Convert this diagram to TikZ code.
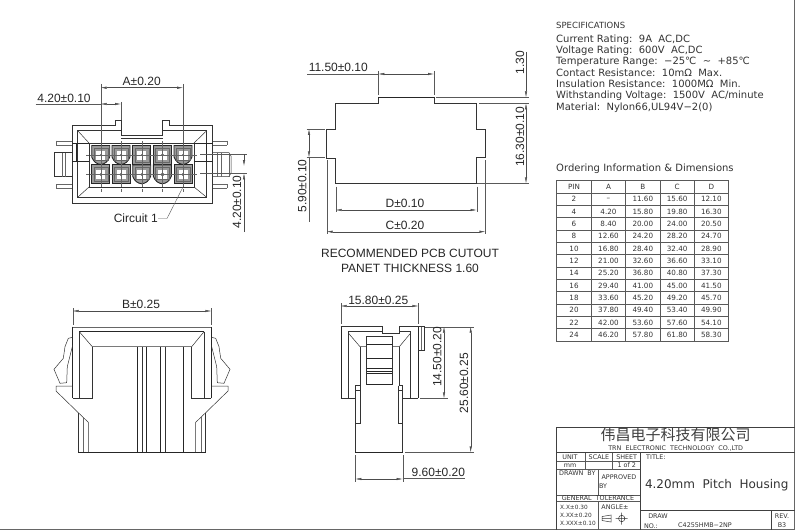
\documentclass[tikz,border=0pt]{standalone}
\usepackage{fontspec}
\usetikzlibrary{arrows.meta}
\setmainfont{Liberation Sans}
\newfontfamily\cadfont{DejaVu Sans}
\newfontfamily\cjkfont{Noto Sans CJK SC}
\tikzset{
  part/.style={draw=black!80, line width=0.5pt},
  heavy/.style={draw=black!85, line width=1pt},
  thin/.style={draw=black!60, line width=0.4pt},
  extline/.style={draw=black!65, line width=0.4pt},
  dimline/.style={draw=black!70, line width=0.4pt, {Latex[length=6pt,width=2.4pt]}-{Latex[length=6pt,width=2.4pt]}},
  oneline/.style={draw=black!70, line width=0.4pt, -{Latex[length=6pt,width=2.4pt]}},
  dimlabel/.style={inner sep=0pt, text=black!85, font=\fontsize{12}{12}\selectfont},
  noterow/.style={inner sep=0pt, anchor=west, text=black!80, font=\cadfont\fontsize{10}{10}\selectfont},
  cell/.style={inner sep=0pt, text=black!80, font=\cadfont\fontsize{7.2}{8}\selectfont},
  tiny/.style={inner sep=0pt, text=black!80, font=\cadfont\fontsize{6.4}{7}\selectfont},
  sqcell/.pic={
    \path[fill=black!40] (-9,-9.5) rectangle (9,9.5);
    \draw[heavy, line width=0.9pt] (-9,-9.5) rectangle (9,9.5);
    \path[fill=white] (-4.5,-4.5) rectangle (4.5,4.5);
    \path[fill=black!45] (-1.2,-1.2) rectangle (1.2,1.2);
    \draw[thin] (-7,-7) rectangle (7,7);
    \draw[thin] (0,-13) -- (0,13) (-11,0) -- (11,0);
  },
  rdcell/.pic={
    \path[fill=black!40] (-9,-9.5) -- (9,-9.5) -- (9,2) .. controls (7,7) and (4,9) .. (0,9.5) .. controls (-4,9) and (-7,7) .. (-9,2) -- cycle;
    \draw[heavy, line width=0.9pt] (-9,-9.5) -- (9,-9.5) -- (9,2) .. controls (7,7) and (4,9) .. (0,9.5) .. controls (-4,9) and (-7,7) .. (-9,2) -- cycle;
    \path[fill=white] (-4.5,-4.5) rectangle (4.5,4.5);
    \path[fill=black!45] (-1.2,-1.2) rectangle (1.2,1.2);
    \draw[thin] (-7,-7) rectangle (7,5);
    \draw[thin] (0,-13) -- (0,13) (-11,0) -- (11,0);
  },
}
\begin{document}
\begin{tikzpicture}[x=1pt, y=-1pt]
  \useasboundingbox (0,0) rectangle (800,532);
  % sheet border
  \draw[black!60, line width=1pt] (794.5,0) -- (794.5,529.5) -- (0,529.5);

  % mating face
  \draw[part] (72.3,125.7) -- (115,125.7) -- (115,120.7) -- (121,120.7) -- (121,135.7) -- (162.7,135.7) -- (162.7,120.7) -- (169,120.7) -- (169,125.7) -- (212.7,125.7) -- (212.7,203.3) -- (72.3,203.3) -- cycle;
  \draw[part] (121,130.7) -- (77.7,130.7) -- (77.7,197.3) -- (206.7,197.3) -- (206.7,130.7) -- (162.7,130.7);
  \draw[part] (121,138.3) -- (162.7,138.3);
  \draw[part] (89,143) rectangle (194,187);
  \foreach \x/\y/\u/\v in {77.7/130.7/89/143, 206.7/130.7/194/143, 77.7/197.3/89/187, 206.7/197.3/194/187} {
    \draw[part] (\x,\y) -- (\u,\v);
  }
  \draw[heavy, line width=0.8pt] (72.3,143) -- (89,143) (72.3,161.7) -- (89,161.7) (76.7,143) -- (76.7,161.7);
  \draw[heavy, line width=0.8pt] (194,143) -- (212.7,143) (194,161.7) -- (212.7,161.7) (206.7,143) -- (206.7,161.7);
  \foreach \y in {140.7,145,184,188} {
    \draw[thin] (56,\y) -- (72.3,\y);
    \draw[thin] (212.7,\y) -- (227,\y);
  }
  \draw[thin] (56,140.7) -- (56,145) (56,184) -- (56,188) (227,140.7) -- (227,145) (227,184) -- (227,188);
  \draw[part] (72.3,152.7) -- (54,152.7) -- (54,176.7) -- (72.3,176.7);
  \draw[thin] (62,152.7) -- (62,176.7) (65,152.7) -- (65,176.7);
  \draw[part] (212.7,152.7) -- (229,152.7) -- (231,156) -- (231,173) -- (229,176.7) -- (212.7,176.7);
  \draw[thin] (217,152.7) -- (217,176.7) (221,152.7) -- (221,176.7) (229,152.7) -- (229,176.7);
  \foreach \x in {100.7,121,141.7,162.3,183} {
    \draw[thin, dashed] (\x,141) -- (\x,192);
  }
  \draw[thin, dashed] (86,155) -- (197,155) (86,174.3) -- (197,174.3);
  \foreach \x/\shape in {100.7/rdcell,121/rdcell,141.7/sqcell,162.3/sqcell,183/rdcell} {
    \pic at (\x,155) {\shape};
  }
  \foreach \x/\shape in {100.7/sqcell,121/sqcell,141.7/rdcell,162.3/rdcell,183/sqcell} {
    \pic at (\x,174.3) {\shape};
  }

  % mating face dimensions
  \draw[extline] (100.7,84) -- (100.7,146) (183,84) -- (183,146) (121,102) -- (121,120);
  \draw[dimline] (100.7,87.7) -- (183,87.7);
  \node[dimlabel] (dimA) at (141.7,81) {A±0.20};
  \draw[extline] (35.7,104) -- (100.7,104);
  \draw[dimline] (100.7,104) -- (121,104);
  \node[dimlabel] (pitchH) at (64,98) {4.20±0.10};
  \draw[extline] (200,154) -- (246.7,154) (200,173.3) -- (246.7,173.3);
  \draw[oneline] (244,154) -- (244,166);
  \draw[oneline] (244,232) -- (244,173.3);
  \node[dimlabel, rotate=90] (pitchV) at (237,202) {4.20±0.10};
  \node[dimlabel, anchor=east] (circuit) at (158,218.5) {Circuit 1};
  \draw[extline] (circuit.east) -- (167,218.5) -- (183,187);

  % cutout
  \draw[part] (335.7,183.3) -- (335.7,158.3) -- (326.7,158.3) -- (326.7,129) -- (335.7,129) -- (335.7,103.3) -- (378.3,103.3) -- (378.3,97) -- (434,97) -- (434,103.3) -- (476.7,103.3) -- (476.7,129) -- (485.3,129) -- (485.3,157.3) -- (476.7,157.3) -- (476.7,183.3) -- cycle;
  \draw[heavy, line width=0.7pt] (378.3,97) -- (434,97);
  \draw[extline] (378.3,71) -- (378.3,95) (434,71) -- (434,95);
  \draw[extline] (307.3,74) -- (378.3,74);
  \draw[dimline] (378.3,74) -- (434,74);
  \node[dimlabel] (dimTop) at (338.3,67.7) {11.50±0.10};
  \draw[extline] (436,97.3) -- (529.3,97.3) (479.3,103.3) -- (529.3,103.3) (477.3,183.3) -- (529.3,183.3);
  \draw[oneline] (526,52) -- (526,97.3);
  \draw[dimline] (526,103.3) -- (526,183.3);
  \node[dimlabel, rotate=90] (dimStep) at (520,62.7) {1.30};
  \node[dimlabel, rotate=90] (dimHigh) at (520,136.7) {16.30±0.10};
  \draw[extline] (306.7,129) -- (325,129) (306.7,157.3) -- (325,157.3);
  \draw[dimline] (309,129) -- (309,157.3);
  \draw[extline] (309,157.3) -- (309,221.7);
  \node[dimlabel, rotate=90] (dimEar) at (302.3,186) {5.90±0.10};
  \draw[extline] (335.7,186.7) -- (335.7,211.7) (476.7,186.7) -- (476.7,211.7);
  \draw[dimline] (335.7,210) -- (476.7,210);
  \node[dimlabel] (dimD) at (405,203.3) {D±0.10};
  \draw[extline] (326.7,160) -- (326.7,234) (485.3,160) -- (485.3,234);
  \draw[dimline] (326.7,231.7) -- (485.3,231.7);
  \node[dimlabel] (dimC) at (405,225.7) {C±0.20};
  \node[dimlabel] (noteA) at (410,253.3) {RECOMMENDED PCB CUTOUT};
  \node[dimlabel] (noteB) at (410,268.3) {PANET THICKNESS 1.60};

  % front view
  \draw[extline] (72.7,308) -- (72.7,325) (211.3,308) -- (211.3,325);
  \draw[dimline] (72.7,311) -- (211.3,311);
  \node[dimlabel] (dimB) at (141,304.3) {B±0.25};
  \draw[thin] (72.7,326.7) -- (211.3,326.7);
  \draw[heavy] (72.7,326.7) -- (72.7,398.3) (211.3,326.7) -- (211.3,398.3);
  \draw[heavy, line width=0.7pt] (79.3,331.7) -- (204,331.7);
  \draw[part] (79.3,331.7) -- (79.3,398.3) (204,331.7) -- (204,398.3);
  \draw[part] (79.3,331.7) -- (92.3,346.7) -- (191.7,346.7) -- (204,331.7);
  \draw[part] (72.7,398.3) -- (92.3,398.3) -- (92.3,346.7) (211.3,398.3) -- (191.7,398.3) -- (191.7,346.7);
  \foreach \x in {137.3,146.7,160,183.3} {
    \draw[heavy, line width=0.8pt] (\x,346.7) -- (\x,452.3);
  }
  \foreach \x in {142.3,165} {
    \draw[part] (\x,346.7) -- (\x,452.3);
  }
  \draw[heavy, line width=0.8pt] (78.3,452.3) -- (205.7,452.3);
  \foreach \xa/\xb/\xc/\xd/\xe in {72.7/56/78.3/83.3/88.3, 211.3/228/205.7/200.7/195.7} {
    \draw[part] (\xa,386) -- (\xb,386) -- (\xb,391) -- (\xc,412.7) -- (\xe,422.3) -- (\xe,452.3);
    \draw[part] (\xc,412.7) -- (\xc,452.3);
    \draw[thin] (\xd,417) -- (\xd,452.3);
  }
  \draw[part] (72.7,337.3) -- (68.3,338.3) -- (65,346.7) -- (63.3,358.3) -- (54,369.3) -- (60,383.3) -- (66.7,382.7) -- (67.3,366.7) -- (72.7,345);
  \draw[part] (211.3,337.3) -- (215.7,338.3) -- (219,346.7) -- (220.7,358.3) -- (230,369.3) -- (224,383.3) -- (217.3,382.7) -- (216.7,366.7) -- (211.3,345);

  % side view
  \draw[extline] (340.7,303) -- (340.7,324.3) (418.3,303) -- (418.3,324.3);
  \draw[dimline] (340.7,306) -- (418.3,306);
  \node[dimlabel] (dimSide) at (378.3,300.7) {15.80±0.25};
  \draw[part] (340.7,326.7) -- (382.7,326.7) -- (382.7,333.3) -- (399,333.3) -- (399,326.7) -- (418.3,326.7);
  \draw[heavy] (341,326.7) -- (341,398.3) (418.3,326.7) -- (418.3,398.3);
  \draw[part] (340.7,398.3) -- (355.3,398.3) (402.7,398.3) -- (418.3,398.3);
  \draw[part] (348.3,398.3) -- (348.3,331.7) -- (382.7,331.7) (399,331.7) -- (410.7,331.7) -- (410.7,398.3);
  \draw[part] (348.3,333) -- (360,346.7) -- (366.7,346.7) (410.7,333) -- (399.3,346.7) -- (392,346.7);
  \draw[part] (360,346.7) -- (360,385.7) (399.3,346.7) -- (399.3,385.7);
  \draw[part] (418.3,326.7) -- (424,326.7) -- (424,350) -- (418.3,350);
  \draw[thin] (421,326.7) -- (421,350);
  \draw[part] (366.7,336.7) rectangle (392,384);
  \foreach \y/\w in {344/1, 358.3/0.5, 368.3/1, 371/0.8, 373.3/0.5, 384/1} {
    \draw[draw=black!85, line width=\w pt] (366.7,\y) -- (392,\y);
  }
  \draw[part] (355.3,385.7) -- (360,385.7) (398.7,385.7) -- (402.7,385.7);
  \draw[part] (355.3,390) -- (360,390) (398.7,390) -- (402.7,390);
  \draw[part] (360,385.7) -- (360,423.3) -- (355.3,423.3) (398.7,385.7) -- (398.7,423.3) -- (402.7,423.3);
  \draw[part] (355.3,385.7) -- (355.3,452.3) (402.7,385.7) -- (402.7,452.3);
  \draw[heavy, line width=0.8pt] (355.3,452.3) -- (402.7,452.3);
  % side view dimensions
  \draw[extline] (425,326.7) -- (474,326.7) (420,398.3) -- (448.3,398.3) (405,452.3) -- (474,452.3);
  \draw[dimline] (444,326.7) -- (444,398.3);
  \draw[dimline] (470.7,326.7) -- (470.7,452.3);
  \node[dimlabel, rotate=90] (dimFive) at (437.3,356.7) {14.50±0.20};
  \node[dimlabel, rotate=90] (dimAll) at (464,383.3) {25.60±0.25};
  \draw[extline] (355.3,455) -- (355.3,481.7) (402.7,455) -- (402.7,481.7);
  \draw[dimline] (355.3,479) -- (402.7,479);
  \draw[extline] (402.7,478.3) -- (465,478.3);
  \node[dimlabel] (dimNeck) at (438.3,472.3) {9.60±0.20};

  % specifications
  \node[noterow, font=\cadfont\fontsize{8.5}{10}\selectfont] (specHead) at (556,25) {SPECIFICATIONS};
  \node[noterow] (specA) at (556,39.3) {Current Rating:\ \ 9A\ \ AC,DC};
  \node[noterow] (specB) at (556,50.7) {Voltage Rating:\ \ 600V\ \ AC,DC};
  \node[noterow] (specC) at (556,62) {Temperature Range:\ \ −25℃\ \ ∼\ \ +85℃};
  \node[noterow] (specD) at (556,72.7) {Contact Resistance:\ \ 10mΩ\ \ Max.};
  \node[noterow] (specE) at (556,84) {Insulation Resistance:\ \ 1000MΩ\ \ Min.};
  \node[noterow] (specF) at (556,96) {Withstanding Voltage:\ \ 1500V\ \ AC/minute};
  \node[noterow] (specG) at (556,108) {Material:\ \ Nylon66,UL94V−2(0)};
  \node[noterow] (orderHead) at (556,168.3) {Ordering Information \& Dimensions};

  % ordering table
  \draw[black!65, line width=0.9pt] (556.7,180.7) rectangle (728.3,341);
  \foreach \x in {591.3,625.7,660,694.3} {
    \draw[black!65, line width=0.9pt] (\x,180.7) -- (\x,341);
  }
  \draw[black!65, line width=0.9pt] (556.7,193) -- (728.3,193);
  \foreach \r in {1,...,11} {
    \draw[black!65, line width=0.9pt] (556.7,193+\r*12.33) -- (728.3,193+\r*12.33);
  }
  \node[cell] (headP) at (574,187) {PIN};
  \node[cell] (headA) at (608.5,187) {A};
  \node[cell] (headB) at (642.8,187) {B};
  \node[cell] (headC) at (677.2,187) {C};
  \node[cell] (headD) at (711.3,187) {D};
  \foreach \r/\p/\a/\b/\c/\d [count=\n from 0] in {
    2/2/–/11.60/15.60/12.10, 4/4/4.20/15.80/19.80/16.30, 6/6/8.40/20.00/24.00/20.50,
    8/8/12.60/24.20/28.20/24.70, 10/10/16.80/28.40/32.40/28.90, 12/12/21.00/32.60/36.60/33.10,
    14/14/25.20/36.80/40.80/37.30, 16/16/29.40/41.00/45.00/41.50, 18/18/33.60/45.20/49.20/45.70,
    20/20/37.80/49.40/53.40/49.90, 22/22/42.00/53.60/57.60/54.10, 24/24/46.20/57.80/61.80/58.30} {
    \node[cell] (p\r) at (574,199.2+\n*12.33) {\p};
    \node[cell] (a\r) at (608.5,199.2+\n*12.33) {\a};
    \node[cell] (b\r) at (642.8,199.2+\n*12.33) {\b};
    \node[cell] (c\r) at (677.2,199.2+\n*12.33) {\c};
    \node[cell] (d\r) at (711.3,199.2+\n*12.33) {\d};
  }

  % title block
  \draw[black!75, line width=0.8pt] (556.7,427.3) -- (794.5,427.3) (556.7,427.3) -- (556.7,529.5);
  \draw[black!75, line width=0.8pt] (556.7,452.7) -- (794.5,452.7);
  \draw[black!65, line width=0.5pt] (556.7,461.7) -- (640,461.7) (556.7,469) -- (640,469) (556.7,495) -- (640,495) (556.7,501.7) -- (640,501.7);
  \draw[black!75, line width=0.8pt] (640,452.7) -- (640,529.5) (640,510) -- (794.5,510) (771,510) -- (771,529.5);
  \draw[black!65, line width=0.5pt] (585,452.7) -- (585,469) (612.7,452.7) -- (612.7,469) (598.3,469) -- (598.3,495) (598.3,501.7) -- (598.3,529.5);
  \node[inner sep=0pt, text=black!75, font=\cjkfont\fontsize{15}{16}\selectfont] (firmCn) at (675.7,434.5) {伟昌电子科技有限公司};
  \node[tiny] (firmEn) at (675.7,448.3) {TRN\ \ ELECTRONIC\ \ TECHNOLOGY\ \ CO.,LTD};
  \node[tiny] (unitH) at (570,456.9) {UNIT};
  \node[tiny] (scaleH) at (599,456.9) {SCALE};
  \node[tiny] (sheetH) at (626.7,456.9) {SHEET};
  \node[tiny] (unitV) at (570,465.3) {mm};
  \node[tiny] (sheetV) at (626.7,465.3) {1\ of\ 2};
  \node[tiny] (drawn) at (577.3,473) {DRAWN\ \ BY};
  \node[tiny] (appr) at (619,477.3) {APPROVED};
  \node[tiny, anchor=west] (apprBy) at (598.8,486) {BY};
  \node[tiny] (general) at (598,498.4) {GENERAL\ \ TOLERANCE};
  \node[tiny, anchor=west, font=\cadfont\fontsize{5.8}{7}\selectfont] (tolA) at (560,507.7) {X.X±0.30};
  \node[tiny, anchor=west, font=\cadfont\fontsize{5.8}{7}\selectfont] (tolB) at (560,515) {X.XX±0.20};
  \node[tiny, anchor=west, font=\cadfont\fontsize{5.8}{7}\selectfont] (tolC) at (560,523) {X.XXX±0.10};
  \node[tiny] (angle) at (615,507.3) {ANGLE±};
  % projection symbol
  \draw[part] (602,516.5) -- (611,515) -- (611,522) -- (602,520.5) -- cycle (602,518.5) -- (611,518.5);
  \draw[part] (621.7,518.5) circle (3.2) (615.7,518.5) -- (627.7,518.5) (621.7,512.5) -- (621.7,524.5);
  \node[tiny, anchor=west] (titleH) at (646,457.3) {TITLE:};
  \node[inner sep=0pt, text=black!80, font=\cadfont\fontsize{12}{13}\selectfont] (titleV) at (716.7,485) {4.20mm\ \ Pitch\ \ Housing};
  \node[tiny] (drawH) at (658,516) {DRAW};
  \node[tiny] (noH) at (651,526) {NO.:};
  \node[tiny] (drawV) at (705,525.5) {C4255HMB−2NP};
  \node[tiny] (revH) at (782,516.5) {REV.};
  \node[tiny] (revV) at (782,525) {B3};
\end{tikzpicture}
\end{document}
